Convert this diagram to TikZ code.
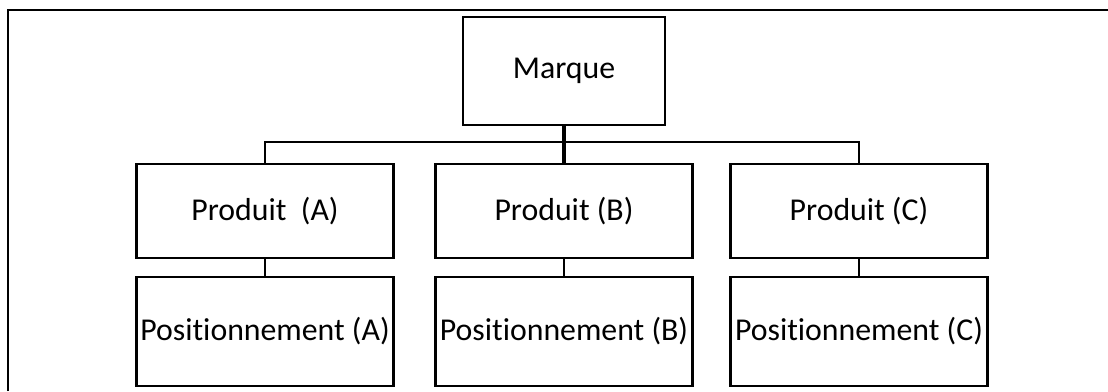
\documentclass[tikz,border=0pt]{standalone}
\usepackage{fontspec}
\setmainfont{Carlito}[Ligatures=NoCommon]
\usetikzlibrary{positioning}

\tikzset{
  cadre/.style={draw, line width=1.1pt, inner sep=0pt, font=\fontsize{15.9}{18}\selectfont},
  produit/.style={cadre, minimum width=128.5pt, minimum height=47pt},
  position/.style={cadre, minimum width=128.5pt, minimum height=54.5pt},
  lien/.style={line width=1.1pt}
}

\begin{document}
\begin{tikzpicture}[x=0.5pt, y=-0.5pt]
            \useasboundingbox (0,0) rectangle (1108,391);
            % Frame
            \draw[line width=1.3pt] (8,391) -- (8,10) -- (1108,10);

            % Brand
            \node[cadre, minimum width=101pt, minimum height=54pt] (marque) at (564,71) {Marque};

            % Products
            \node[produit] (prodA) at (265,211) {Produit~ (A)};
            \node[produit] (prodB) at (564,211) {Produit (B)};
            \node[produit] (prodC) at (859,211) {Produit (C)};

            % Positioning
            \node[position] (posA) at (265,331.5) {Positionnement (A)};
            \node[position] (posB) at (564,331.5) {Positionnement (B)};
            \node[position] (posC) at (859,331.5) {Positionnement (C)};

            % Links
            \coordinate (bus) at (564,142);
            \draw[lien] (prodA.north) -- (prodA.north |- bus) -- (prodC.north |- bus) -- (prodC.north);
            \draw[line width=2.2pt] (marque.south) -- (prodB.north);
            \draw[lien] (prodA) -- (posA);
            \draw[lien] (prodB) -- (posB);
            \draw[lien] (prodC) -- (posC);
\end{tikzpicture}
\end{document}
